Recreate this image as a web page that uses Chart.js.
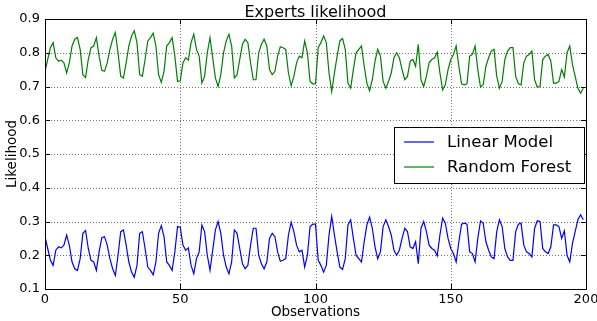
<!DOCTYPE html>
<html>
<head>
<meta charset="utf-8">
<script src="https://cdn.jsdelivr.net/npm/chart.js@4"></script>
<style>
html, body { margin: 0; padding: 0; background: #fff; }
canvas { display: block; }
</style>
</head>
<body>
<canvas id="chart" width="597" height="321"></canvas>
<script>
const chartTitle = 'Experts likelihood';
const seriesNames = ['Linear Model', 'Random Forest'];
const xTicks = [0, 50, 100, 150, 200];
const yTicks = [0.1, 0.2, 0.3, 0.4, 0.5, 0.6, 0.7, 0.8, 0.9];

// one value per observation, 0..199
const linearModel = [
    0.255, 0.22, 0.185, 0.17, 0.215, 0.225, 0.222, 0.23, 0.26, 0.23,
    0.18, 0.16, 0.155, 0.19, 0.265, 0.273, 0.22, 0.185, 0.18, 0.155,
    0.21, 0.252, 0.255, 0.23, 0.19, 0.16, 0.14, 0.2, 0.27, 0.275,
    0.23, 0.18, 0.15, 0.135, 0.17, 0.265, 0.27, 0.22, 0.165, 0.155,
    0.142, 0.18, 0.265, 0.288, 0.255, 0.18, 0.17, 0.155, 0.21, 0.285,
    0.283, 0.23, 0.215, 0.222, 0.17, 0.145, 0.19, 0.21, 0.29, 0.27,
    0.2, 0.155, 0.215, 0.275, 0.3, 0.265, 0.2, 0.165, 0.145, 0.18,
    0.275, 0.265, 0.22, 0.175, 0.16, 0.17, 0.23, 0.28, 0.28, 0.2,
    0.175, 0.16, 0.18, 0.25, 0.265, 0.255, 0.21, 0.182, 0.185, 0.19,
    0.26, 0.298, 0.27, 0.23, 0.21, 0.215, 0.165, 0.2, 0.285, 0.292,
    0.292, 0.185, 0.17, 0.15, 0.17, 0.26, 0.315, 0.26, 0.21, 0.165,
    0.158, 0.19, 0.29, 0.305, 0.25, 0.2, 0.19, 0.18, 0.24, 0.29,
    0.313, 0.28, 0.225, 0.19, 0.21, 0.285, 0.305, 0.285, 0.26, 0.215,
    0.2, 0.215, 0.25, 0.28, 0.27, 0.225, 0.22, 0.24, 0.175, 0.28,
    0.3, 0.27, 0.23, 0.22, 0.215, 0.198, 0.26, 0.31, 0.295, 0.25,
    0.22, 0.205, 0.18, 0.24, 0.292, 0.295, 0.292, 0.21, 0.205, 0.18,
    0.25, 0.302, 0.295, 0.24, 0.215, 0.195, 0.19, 0.27, 0.305, 0.285,
    0.22, 0.195, 0.185, 0.185, 0.27, 0.292, 0.295, 0.23, 0.21, 0.205,
    0.195, 0.28, 0.302, 0.3, 0.22, 0.21, 0.205, 0.225, 0.29, 0.29,
    0.285, 0.25, 0.272, 0.2, 0.18, 0.235, 0.27, 0.305, 0.32, 0.305
];

const randomForest = [
    0.745, 0.78, 0.815, 0.83, 0.785, 0.775, 0.778, 0.77, 0.74, 0.77,
    0.82, 0.84, 0.845, 0.81, 0.735, 0.727, 0.78, 0.815, 0.82, 0.845,
    0.79, 0.748, 0.745, 0.77, 0.81, 0.84, 0.86, 0.8, 0.73, 0.725,
    0.77, 0.82, 0.85, 0.865, 0.83, 0.735, 0.73, 0.78, 0.835, 0.845,
    0.858, 0.82, 0.735, 0.712, 0.745, 0.82, 0.83, 0.845, 0.79, 0.715,
    0.717, 0.77, 0.785, 0.778, 0.83, 0.855, 0.81, 0.79, 0.71, 0.73,
    0.8, 0.845, 0.785, 0.725, 0.7, 0.735, 0.8, 0.835, 0.855, 0.82,
    0.725, 0.735, 0.78, 0.825, 0.84, 0.83, 0.77, 0.72, 0.72, 0.8,
    0.825, 0.84, 0.82, 0.75, 0.735, 0.745, 0.79, 0.818, 0.815, 0.81,
    0.74, 0.702, 0.73, 0.77, 0.79, 0.785, 0.835, 0.8, 0.715, 0.708,
    0.708, 0.815, 0.83, 0.85, 0.83, 0.74, 0.685, 0.74, 0.79, 0.835,
    0.842, 0.81, 0.71, 0.695, 0.75, 0.8, 0.81, 0.82, 0.76, 0.71,
    0.687, 0.72, 0.775, 0.81, 0.79, 0.715, 0.695, 0.715, 0.74, 0.785,
    0.8, 0.785, 0.75, 0.72, 0.73, 0.775, 0.78, 0.76, 0.825, 0.72,
    0.7, 0.73, 0.77, 0.78, 0.785, 0.802, 0.74, 0.69, 0.705, 0.75,
    0.78, 0.795, 0.82, 0.76, 0.708, 0.705, 0.708, 0.79, 0.795, 0.82,
    0.75, 0.698, 0.705, 0.76, 0.785, 0.805, 0.81, 0.73, 0.695, 0.715,
    0.78, 0.805, 0.815, 0.815, 0.73, 0.708, 0.705, 0.77, 0.79, 0.795,
    0.805, 0.72, 0.698, 0.7, 0.78, 0.79, 0.795, 0.775, 0.71, 0.71,
    0.715, 0.75, 0.728, 0.8, 0.82, 0.765, 0.73, 0.695, 0.68, 0.695
];

const font = 'DejaVu Sans, sans-serif';
const toPoints = vals => vals.map((v, i) => ({ x: i, y: v }));

// matplotlib-ish frame: dotted grid, box, inward ticks, title, legend
const mplLook = {
    id: 'mplLook',
    beforeDatasetsDraw(chart) {
        const { ctx, chartArea: a, scales: { x, y } } = chart;
        ctx.save();
        ctx.strokeStyle = 'rgba(0,0,0,0.55)';
        ctx.lineWidth = 1;
        ctx.setLineDash([1, 2]);
        xTicks.forEach(t => {
            const px = Math.round(x.getPixelForValue(t)) + 0.5;
            ctx.beginPath(); ctx.moveTo(px, a.top); ctx.lineTo(px, a.bottom); ctx.stroke();
        });
        yTicks.forEach(t => {
            const py = Math.round(y.getPixelForValue(t)) + 0.5;
            ctx.beginPath(); ctx.moveTo(a.left, py); ctx.lineTo(a.right, py); ctx.stroke();
        });
        ctx.restore();
    },
    afterDatasetsDraw(chart) {
        const { ctx, chartArea: a, scales: { x, y } } = chart;
        ctx.save();
        ctx.strokeStyle = '#000';
        ctx.lineWidth = 1;
        ctx.strokeRect(Math.round(a.left) + 0.5, Math.round(a.top) + 0.5,
            Math.round(a.right - a.left), Math.round(a.bottom - a.top));
        const len = 5;
        ctx.beginPath();
        xTicks.forEach(t => {
            const px = Math.round(x.getPixelForValue(t)) + 0.5;
            ctx.moveTo(px, a.bottom); ctx.lineTo(px, a.bottom - len);
            ctx.moveTo(px, a.top); ctx.lineTo(px, a.top + len);
        });
        yTicks.forEach(t => {
            const py = Math.round(y.getPixelForValue(t)) + 0.5;
            ctx.moveTo(a.left, py); ctx.lineTo(a.left + len, py);
            ctx.moveTo(a.right, py); ctx.lineTo(a.right - len, py);
        });
        ctx.stroke();

        // title
        ctx.fillStyle = '#000';
        ctx.font = '16px ' + font;
        ctx.textAlign = 'center';
        ctx.textBaseline = 'alphabetic';
        ctx.fillText(chartTitle, (a.left + a.right) / 2, a.top - 2);

        // legend
        const bx = a.right - 192, by = a.top + 108, bw = 190, bh = 56;
        ctx.fillStyle = '#fff';
        ctx.fillRect(bx, by, bw, bh);
        ctx.strokeRect(bx + 0.5, by + 0.5, bw, bh);
        ctx.font = '16.5px ' + font;
        ctx.textAlign = 'left';
        ctx.textBaseline = 'middle';
        chart.data.datasets.forEach((ds, i) => {
            const ly = by + 15 + i * 25;
            ctx.strokeStyle = ds.borderColor;
            ctx.lineWidth = 1.2;
            ctx.beginPath(); ctx.moveTo(bx + 10, ly); ctx.lineTo(bx + 40, ly); ctx.stroke();
            ctx.fillStyle = '#000';
            ctx.fillText(ds.label, bx + 53, ly + 1);
        });
        ctx.restore();
    }
};

new Chart(document.getElementById('chart'), {
    type: 'line',
    data: {
        datasets: [{
            label: seriesNames[0],
            data: toPoints(linearModel),
            borderColor: '#0000ff',
            borderWidth: 1.2,
            pointRadius: 0,
            tension: 0
        }, {
            label: seriesNames[1],
            data: toPoints(randomForest),
            borderColor: '#008000',
            borderWidth: 1.2,
            pointRadius: 0,
            tension: 0
        }]
    },
    options: {
        responsive: false,
        animation: false,
        devicePixelRatio: 1,
        layout: { padding: { top: 19, right: 11, left: 0, bottom: 0 } },
        plugins: {
            legend: { display: false },
            title: { display: false },
            tooltip: { enabled: false }
        },
        scales: {
            x: {
                type: 'linear',
                min: 0,
                max: 200,
                grid: { display: false, drawTicks: false },
                border: { display: false },
                afterBuildTicks: s => { s.ticks = xTicks.map(v => ({ value: v })); },
                afterFit: s => { s.height = 32; s.paddingLeft = 0; s.paddingRight = 0; },
                ticks: {
                    color: '#000',
                    padding: 3,
                    maxRotation: 0,
                    font: { family: font, size: 13 },
                    callback: v => String(v)
                },
                title: {
                    display: true,
                    text: 'Observations',
                    color: '#000',
                    padding: 0,
                    font: { family: font, size: 13.5 }
                }
            },
            y: {
                min: 0.1,
                max: 0.9,
                grid: { display: false, drawTicks: false },
                border: { display: false },
                afterBuildTicks: s => { s.ticks = yTicks.map(v => ({ value: v })); },
                afterFit: s => { s.width = 45; s.paddingTop = 0; s.paddingBottom = 0; },
                ticks: {
                    color: '#000',
                    padding: 5,
                    font: { family: font, size: 13 },
                    callback: v => v.toFixed(1)
                },
                title: {
                    display: true,
                    text: 'Likelihood',
                    color: '#000',
                    padding: { top: 4, bottom: 0 },
                    font: { family: font, size: 13.5 }
                }
            }
        }
    },
    plugins: [mplLook]
});
</script>
</body>
</html>
